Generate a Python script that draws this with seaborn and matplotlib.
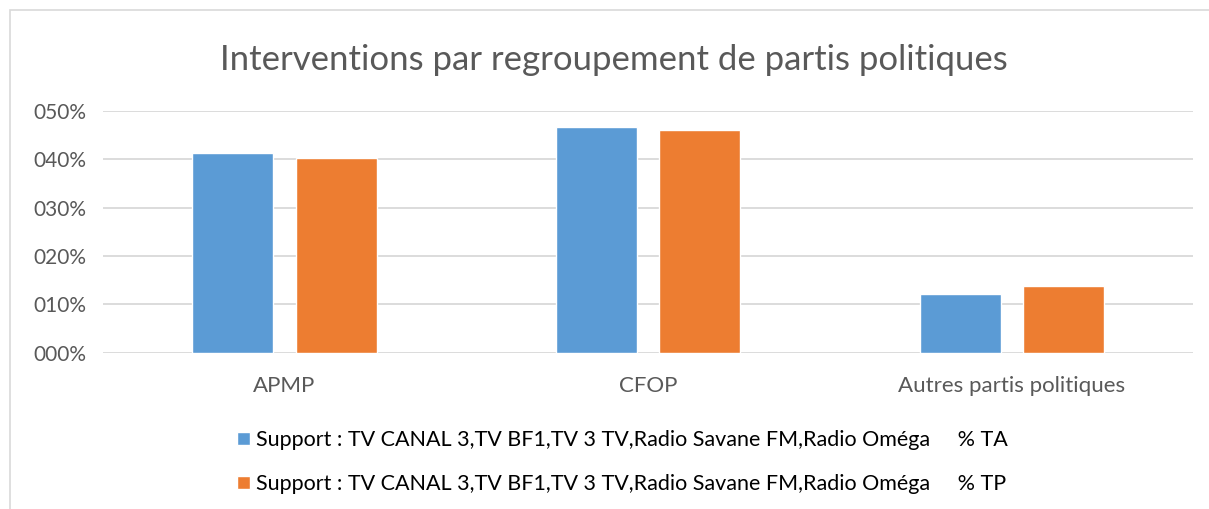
import pandas as pd
import seaborn as sns
import matplotlib.pyplot as plt
from matplotlib.patches import Rectangle
from matplotlib.ticker import FuncFormatter

# Données (en %)
categories = ["APMP", "CFOP", "Autres partis politiques"]
ta_values = [41.3, 46.6, 12.1]
tp_values = [40.2, 46.0, 13.7]
label_ta = "Support : TV CANAL 3,TV BF1,TV 3 TV,Radio Savane FM,Radio Oméga     % TA"
label_tp = "Support : TV CANAL 3,TV BF1,TV 3 TV,Radio Savane FM,Radio Oméga     % TP"

df = pd.DataFrame({
    "parti": categories * 2,
    "valeur": ta_values + tp_values,
    "serie": [label_ta] * 3 + [label_tp] * 3,
})

sns.set_style("white")
plt.rcParams['font.family'] = ['Lato', 'DejaVu Sans']
text_color = "#595959"

fig = plt.figure(figsize=(12.09, 5.09), dpi=100)
ax = fig.add_axes([0.085, 0.307, 0.902, 0.475])

sns.barplot(data=df, x="parti", y="valeur", hue="serie",
            palette=["#5B9BD5", "#ED7D31"], width=0.567, gap=0.214,
            ax=ax, legend=True, saturation=1)

ax.set_ylim(0, 50)
ax.set_yticks([0, 10, 20, 30, 40, 50])
ax.yaxis.set_major_formatter(FuncFormatter(lambda v, p: f"{v:03.0f}%"))
ax.grid(axis="y", color="#D9D9D9", linewidth=1.3)
ax.set_axisbelow(True)
for s in ax.spines.values():
    s.set_visible(False)
ax.set_xlabel("")
ax.set_ylabel("")
ax.tick_params(axis="both", length=0, colors=text_color)
ax.tick_params(axis="x", pad=17, labelsize=16)
ax.tick_params(axis="y", pad=12, labelsize=15)

handles, labels = ax.get_legend_handles_labels()
ax.get_legend().remove()
fig.legend(handles, labels, loc="upper center", bbox_to_anchor=(0.515, 0.193),
           ncol=1, frameon=False, fontsize=15.5, labelspacing=1.12,
           handlelength=0.58, handleheight=0.58, handletextpad=0.3,
           labelcolor="#000000")

fig.text(0.508, 0.882, "Interventions par regroupement de partis politiques",
         ha="center", va="center", fontsize=25, color=text_color)

# cadre du graphique
fig.patches.append(Rectangle((10 / 1209, -0.01), 1.0, 1 - 10 / 509 + 0.01,
                             transform=fig.transFigure, fill=False,
                             edgecolor="#D9D9D9", linewidth=1.2))

fig.savefig("out.png", dpi=100)
